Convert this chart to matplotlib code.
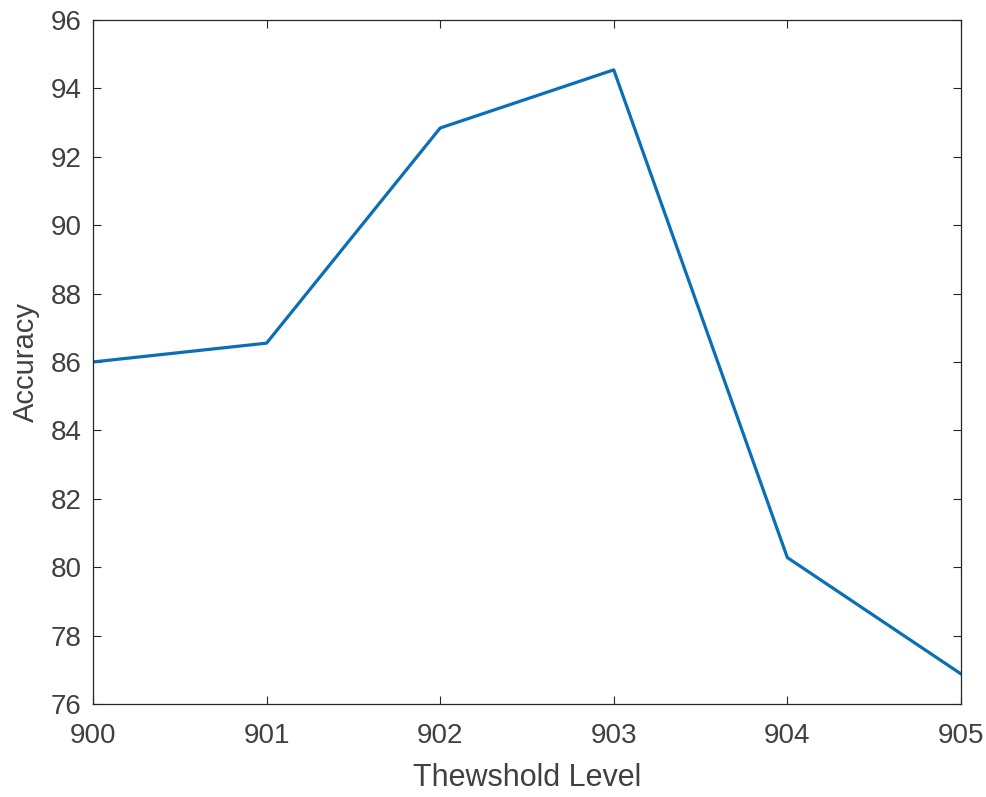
import matplotlib.pyplot as plt

# Threshold levels and measured accuracy (%)
levels = [900, 901, 902, 903, 904, 905]
accuracy = [86.0, 86.55, 92.84, 94.54, 80.28, 76.88]

plt.rcParams['font.family'] = ['Liberation Sans', 'DejaVu Sans']

fig = plt.figure(figsize=(9.86, 7.97), dpi=100)
ax = fig.add_axes([0.0943, 0.1167, 0.8803, 0.8583])

ax.plot(levels, accuracy, color='#0a6fb5', linewidth=2.3)

ax.set_xlim(900, 905)
ax.set_ylim(76, 96)
ax.set_xticks(levels)
ax.set_yticks(range(76, 97, 2))

ax.tick_params(direction='in', top=True, right=True, length=6, width=0.8,
               colors='#262626', labelsize=20, labelcolor='#404040', pad=8)
ax.tick_params(axis='x', pad=14)
for s in ax.spines.values():
    s.set_color('#262626')
    s.set_linewidth(0.9)

ax.set_xlabel('Thewshold Level', fontsize=22, color='#404040', labelpad=10)
ax.set_ylabel('Accuracy', fontsize=21, color='#404040', labelpad=8)

fig.savefig('out.png', dpi=100)
